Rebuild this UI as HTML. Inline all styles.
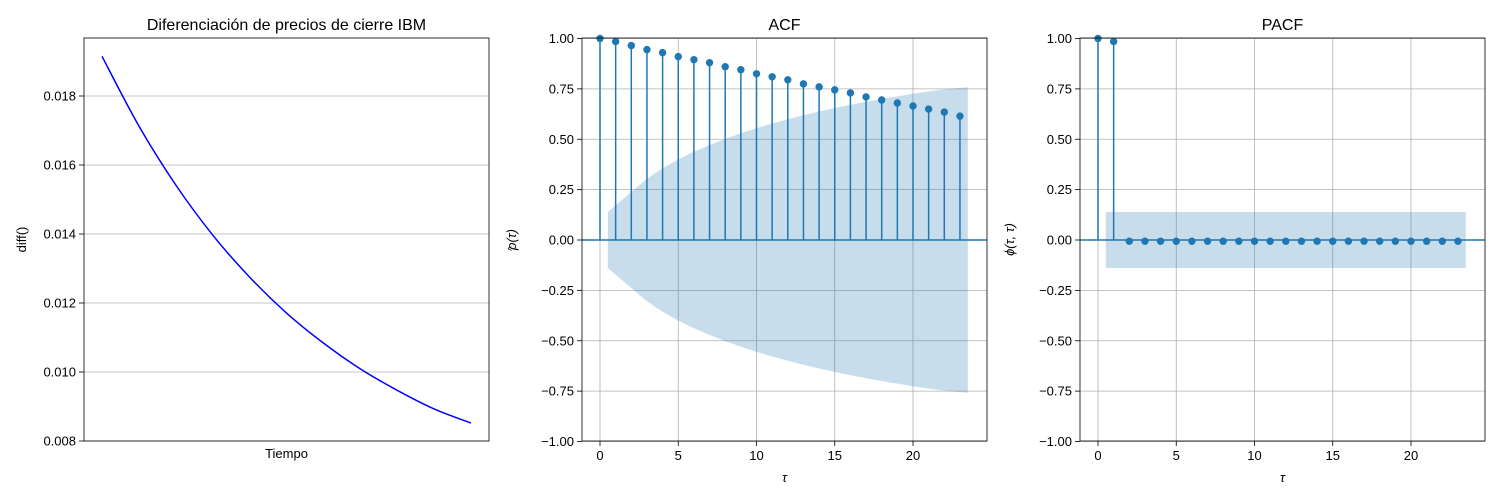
<!DOCTYPE html>
<html><head><meta charset="utf-8"><style>
html,body{margin:0;padding:0;background:#fff}
svg{display:block;font-family:"Liberation Sans","DejaVu Sans",sans-serif}
</style></head><body>
<svg id="fig" width="1500" height="500" viewBox="0 0 1500 500" xmlns="http://www.w3.org/2000/svg"></svg>
<script>
// ---- data ----
const diffT = [0,1,2,3,4,5,6,7,8,9,10];
const diffValues = [0.01915,0.01713,0.01542,0.01397,0.01275,0.01171,0.01084,0.01009,0.00947,0.00893,0.00852];
const diffTicks = [0.008,0.010,0.012,0.014,0.016,0.018];
const lags = [0,1,2,3,4,5,6,7,8,9,10,11,12,13,14,15,16,17,18,19,20,21,22,23];
const acfValues = [1.0,0.985,0.965,0.945,0.93,0.91,0.895,0.88,0.86,0.845,0.825,0.81,0.795,0.775,0.76,0.745,0.73,0.71,0.695,0.68,0.665,0.65,0.635,0.615];
const acfBand = [0.139,0.238,0.304,0.356,0.400,0.438,0.471,0.502,0.530,0.555,0.578,0.599,0.619,0.638,0.655,0.671,0.686,0.700,0.713,0.726,0.737,0.748,0.758];
const pacfValues = [1.0,0.985,-0.006,-0.006,-0.006,-0.006,-0.006,-0.006,-0.006,-0.006,-0.006,-0.006,-0.006,-0.006,-0.006,-0.006,-0.006,-0.006,-0.006,-0.006,-0.006,-0.006,-0.006,-0.006];
const pacfBand = [0.139,0.139,0.139,0.139,0.139,0.139,0.139,0.139,0.139,0.139,0.139,0.139,0.139,0.139,0.139,0.139,0.139,0.139,0.139,0.139,0.139,0.139,0.139];
const corrTicks = [-1.0,-0.75,-0.5,-0.25,0,0.25,0.5,0.75,1.0];
const corrTickLabels = ["−1.00","−0.75","−0.50","−0.25","0.00","0.25","0.50","0.75","1.00"];
const lagTicks = [0,5,10,15,20];

const NS="http://www.w3.org/2000/svg";
const svg=document.getElementById('fig');
function el(tag,attrs,parent){const e=document.createElementNS(NS,tag);for(const k in attrs)e.setAttribute(k,attrs[k]);(parent||svg).appendChild(e);return e;}
function txt(s,attrs,parent){const t=el('text',attrs,parent);t.textContent=s;return t;}
const C="#1f77b4";

// ---- Panel 1 ----
(function(){
  const L=84,R=489,T=38,B=441;
  const g=el('g',{});
  
  
  const y0=0.008,y1=0.008+(B-T)/34500;
  const ys=v=>B-(v-y0)/(y1-y0)*(B-T);
  const xs=t=>102+t/10*(471-102);
  diffTicks.forEach(v=>{
    const y=ys(v);
    const gl=el('line',{x1:L,x2:R,y1:y,y2:y,stroke:'#b0b0b0','stroke-width':0.8},g);
    
    
    el('line',{x1:L-5,x2:L,y1:y,y2:y,stroke:'#000','stroke-width':0.8},g);
    const t=txt(v.toFixed(3),{x:L-8,y:y+4.5,'font-size':13,'text-anchor':'end'},g);
    
    
  });
  const pts=diffT.map((t,i)=>[xs(t),ys(diffValues[i])]);
  let d=`M${pts[0][0]},${pts[0][1]}`;
  for(let i=0;i<pts.length-1;i++){
    const p0=pts[Math.max(0,i-1)],p1=pts[i],p2=pts[i+1],p3=pts[Math.min(pts.length-1,i+2)];
    const c1=[p1[0]+(p2[0]-p0[0])/6,p1[1]+(p2[1]-p0[1])/6];
    const c2=[p2[0]-(p3[0]-p1[0])/6,p2[1]-(p3[1]-p1[1])/6];
    d+=` C${c1[0]},${c1[1]} ${c2[0]},${c2[1]} ${p2[0]},${p2[1]}`;
  }
  const line=el('path',{d:d,fill:'none',stroke:'#0000ff','stroke-width':1.5},g);
  
  
  el('rect',{x:L,y:T,width:R-L,height:B-T,fill:'none',stroke:'#000','stroke-width':0.8},g);
  const ti=txt('Diferenciación de precios de cierre IBM',{x:(L+R)/2,y:30,'font-size':16,'text-anchor':'middle'},g);
  
  
  const xl=txt('Tiempo',{x:(L+R)/2,y:458,'font-size':13,'text-anchor':'middle'},g);
  
  
  const yl=txt('diff()',{x:26,y:(T+B)/2,'font-size':13,'text-anchor':'middle',transform:`rotate(-90 26 ${(T+B)/2})`},g);
  
  
})();

// ---- correlation panels ----
function corrPanel(L,title,vals,band,name,ylab,hat){
  const R=L+405,T=38,B=441;
  const g=el('g',{});
  
  
  const ys=v=>240-v*201.5;
  const xs=k=>L+18+k*15.65;
  corrTicks.forEach((v,i)=>{
    const y=ys(v);
    const gl=el('line',{x1:L,x2:R,y1:y,y2:y,stroke:'#b0b0b0','stroke-width':0.8},g);
    
    
    el('line',{x1:L-5,x2:L,y1:y,y2:y,stroke:'#000','stroke-width':0.8},g);
    const t=txt(corrTickLabels[i],{x:L-8,y:y+4.5,'font-size':13,'text-anchor':'end'},g);
    
    
  });
  lagTicks.forEach(k=>{
    const x=xs(k);
    const gl=el('line',{x1:x,x2:x,y1:T,y2:B,stroke:'#b0b0b0','stroke-width':0.8},g);
    
    
    el('line',{x1:x,x2:x,y1:B,y2:B+5,stroke:'#000','stroke-width':0.8},g);
    const t=txt(String(k),{x:x,y:B+19,'font-size':13,'text-anchor':'middle'},g);
    
    
  });
  const bx=band.map((v,i)=>i===0?0.5:(i===band.length-1?band.length+0.5:i+1));
  let up=bx.map((x,i)=>`${xs(x)},${ys(band[i])}`);
  let dn=bx.map((x,i)=>`${xs(x)},${ys(-band[i])}`).reverse();
  const poly=el('polygon',{points:up.concat(dn).join(' '),fill:C,'fill-opacity':0.25,stroke:'none'},g);
  
  
  const z=el('line',{x1:L,x2:R,y1:ys(0),y2:ys(0),stroke:C,'stroke-width':1.5},g);
  
  
  lags.forEach((k,i)=>{
    const s=el('line',{x1:xs(k),x2:xs(k),y1:ys(0),y2:ys(vals[i]),stroke:C,'stroke-width':1.5},g);
    
    
  });
  lags.forEach((k,i)=>{
    const c=el('circle',{cx:xs(k),cy:ys(vals[i]),r:3.7,fill:C},g);
    
    
  });
  el('rect',{x:L,y:T,width:R-L,height:B-T,fill:'none',stroke:'#000','stroke-width':0.8},g);
  const ti=txt(title,{x:(L+R)/2,y:30,'font-size':16,'text-anchor':'middle'},g);
  
  
  const xl=txt('τ',{x:(L+R)/2,y:482,'font-size':13,'font-style':'italic','text-anchor':'middle'},g);
  
  
  const yx=L-66,yy=(T+B)/2;
  const yg=el('g',{transform:`rotate(-90 ${yx} ${yy})`},g);
  const yl=txt(ylab,{x:yx,y:yy,'font-size':13,'font-style':'italic','text-anchor':'middle'},yg);
  
  
  if(hat){
    const h=txt('^',{x:yx-9,y:yy-1,'font-size':10,'text-anchor':'middle'},yg);
    
    
  }
}
corrPanel(582,'ACF',acfValues,acfBand,'acf','ρ(τ)',true);
corrPanel(1080,'PACF',pacfValues,pacfBand,'pacf','ϕ(τ, τ)',false);
</script>
</body></html>
